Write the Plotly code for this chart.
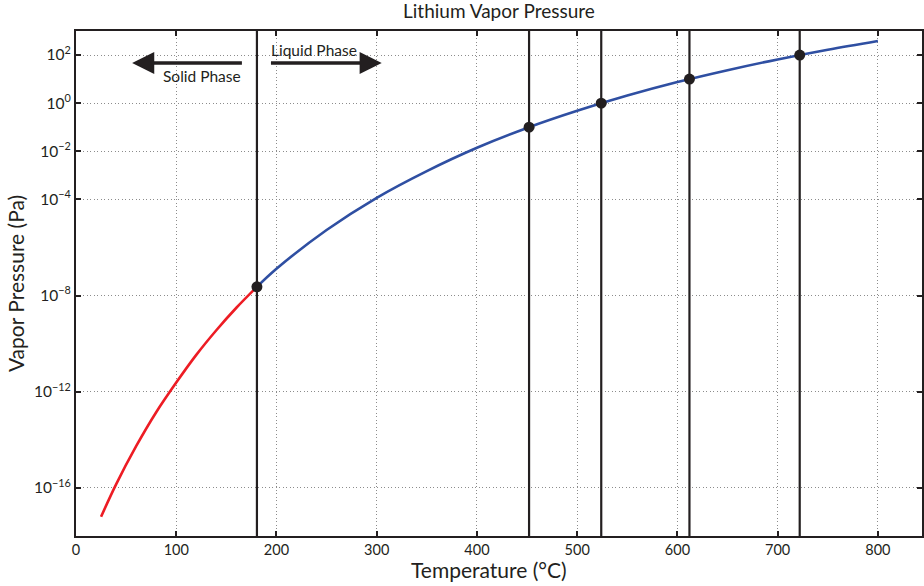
import plotly.graph_objects as go

# Vapor pressure of lithium, solid branch (room temperature to melting point)
solid_T = [25, 40, 60, 80, 100, 120, 140, 160, 180.5]
solid_P = [6.3e-18, 1.4e-16, 5.4e-15, 1.4e-13, 2.4e-12, 3.4e-11, 3.6e-10, 3.1e-9, 2.3e-8]

# Liquid branch (melting point to 800 °C)
liquid_T = [180.5, 200, 250, 300, 350, 400, 450, 500, 550, 600, 650, 700, 750, 800]
liquid_P = [2.3e-8, 1.3e-7, 5.3e-6, 1.16e-4, 1.5e-3, 1.4e-2, 9.3e-2, 0.48, 2.06, 7.5, 23.4, 65.6, 166, 385]

# Marked temperatures: melting point and 0.1 / 1 / 10 / 100 Pa
mark_T = [180.5, 452, 524, 612, 722]
mark_P = [2.3e-8, 0.1, 1, 10, 100]

x_ticks = [0, 100, 200, 300, 400, 500, 600, 700, 800]
y_ticks = [1e2, 1e0, 1e-2, 1e-4, 1e-8, 1e-12, 1e-16]
y_ticktext = ["10<sup>2</sup>", "10<sup>0</sup>", "10<sup>−2</sup>", "10<sup>−4</sup>",
              "10<sup>−8</sup>", "10<sup>−12</sup>", "10<sup>−16</sup>"]

FONT = "Lato"
INK = "#231f20"

fig = go.Figure()

for t in mark_T:
    fig.add_vline(x=t, line=dict(color=INK, width=2.2))

fig.add_trace(go.Scatter(x=solid_T, y=solid_P, mode="lines",
                         line=dict(color="#ed1c24", width=2.6, shape="spline"),
                         showlegend=False))
fig.add_trace(go.Scatter(x=liquid_T, y=liquid_P, mode="lines",
                         line=dict(color="#2f4fa2", width=2.6, shape="spline"),
                         showlegend=False))
fig.add_trace(go.Scatter(x=mark_T, y=mark_P, mode="markers",
                         marker=dict(color=INK, size=11),
                         showlegend=False))

# Phase arrows and labels
arrow_y = 1.667  # log10 of pressure level for the arrows
fig.add_annotation(x=56, y=arrow_y, ax=167, ay=arrow_y, xref="x", yref="y",
                   axref="x", ayref="y", text="", showarrow=True,
                   arrowhead=2, arrowsize=1.3, arrowwidth=3.4, arrowcolor=INK)
fig.add_annotation(x=305, y=arrow_y, ax=193, ay=arrow_y, xref="x", yref="y",
                   axref="x", ayref="y", text="", showarrow=True,
                   arrowhead=2, arrowsize=1.3, arrowwidth=3.4, arrowcolor=INK)
fig.add_annotation(x=167, y=1.12, xref="x", yref="y", text="Solid Phase",
                   showarrow=False, xanchor="right", yanchor="middle",
                   font=dict(family=FONT, size=15.5, color=INK))
fig.add_annotation(x=193, y=2.2, xref="x", yref="y", text="Liquid Phase",
                   showarrow=False, xanchor="left", yanchor="middle",
                   font=dict(family=FONT, size=15.5, color=INK))

# Chart title and x-axis title
fig.add_annotation(x=0.5, y=1, xref="paper", yref="paper", yshift=21,
                   text="Lithium Vapor Pressure", showarrow=False,
                   xanchor="center", yanchor="middle",
                   font=dict(family=FONT, size=19, color=INK))
fig.add_annotation(x=0.488, y=0, xref="paper", yref="paper", yshift=-33,
                   text="Temperature (°C)", showarrow=False,
                   xanchor="center", yanchor="middle",
                   font=dict(family=FONT, size=21, color=INK))

axis_common = dict(showline=True, linecolor=INK, linewidth=2, mirror="ticks",
                   ticks="inside", ticklen=5, tickwidth=2, tickcolor=INK,
                   showgrid=True, gridcolor="#8c8c8c", griddash="1px,2.5px", gridwidth=1,
                   zeroline=False)

fig.update_xaxes(range=[0, 844], tickvals=x_ticks,
                 tickfont=dict(family=FONT, size=14.5, color=INK),
                 **axis_common)
fig.update_yaxes(type="log", range=[-18, 3], tickvals=y_ticks, ticktext=y_ticktext,
                 tickfont=dict(family=FONT, size=15.5, color=INK),
                 title=dict(text="Vapor Pressure (Pa)", font=dict(family=FONT, size=21, color=INK),
                            standoff=4),
                 **axis_common)

fig.update_layout(
    width=924, height=586,
    margin=dict(l=76, r=0, t=31, b=50),
    paper_bgcolor="white", plot_bgcolor="white",
    font=dict(family=FONT, color=INK),
)

fig.write_html("out.html")
